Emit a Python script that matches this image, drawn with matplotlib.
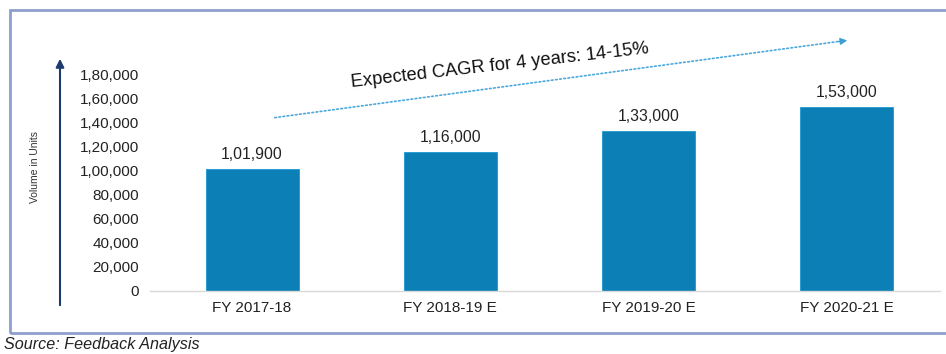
import matplotlib.pyplot as plt
from matplotlib.patches import Rectangle, FancyArrowPatch

plt.rcParams["font.family"] = ["Liberation Sans", "DejaVu Sans"]

categories = ["FY 2017-18", "FY 2018-19 E", "FY 2019-20 E", "FY 2020-21 E"]
volumes = [101900, 116000, 133000, 153000]
value_labels = ["1,01,900", "1,16,000", "1,33,000", "1,53,000"]
y_ticks = [0, 20000, 40000, 60000, 80000, 100000, 120000, 140000, 160000, 180000]
y_tick_labels = ["0", "20,000", "40,000", "60,000", "80,000", "1,00,000",
                 "1,20,000", "1,40,000", "1,60,000", "1,80,000"]

W, H = 946, 354
fig = plt.figure(figsize=(W / 100, H / 100), dpi=100)

def fx(px):
    return px / W

def fy(py):
    return 1 - py / H

# plot area: y=0 at 291px, y=180000 at 75px
ax = fig.add_axes([fx(150), fy(291), fx(940) - fx(150), fy(75) - fy(291)])
x = range(len(categories))
ax.bar(x, volumes, width=0.47, color="#0b7fb6", edgecolor="#1a9ad0", linewidth=0.6, zorder=2)
for xi, v, lab in zip(x, volumes, value_labels):
    ax.text(xi, v + 6000, lab, ha="center", va="bottom", fontsize=11.3, color="#222222")

ax.set_xlim(-0.515, 3.47)
ax.set_ylim(0, 180000)
ax.set_yticks(y_ticks)
ax.set_yticklabels(y_tick_labels, fontsize=11, color="#222222")
ax.set_xticks(list(x))
ax.set_xticklabels(categories, fontsize=11, color="#222222")
ax.tick_params(axis="y", length=0, pad=8)
ax.tick_params(axis="x", length=0, pad=7)
for side in ["top", "right", "left"]:
    ax.spines[side].set_visible(False)
ax.spines["bottom"].set_color("#d9d9d9")
ax.spines["bottom"].set_linewidth(1)

# y axis arrow on the left
fig.add_artist(FancyArrowPatch((fx(60), fy(308)), (fx(60), fy(56)),
                               transform=fig.transFigure, arrowstyle="-|>",
                               mutation_scale=12, color="#1f3b6e", lw=1.5))
fig.text(fx(35), fy(167), "Volume in Units", rotation=90, ha="center", va="center",
         fontsize=7.5, color="#333333")

# CAGR trend arrow (dotted shaft, solid head)
fig.add_artist(FancyArrowPatch((fx(272), fy(118)), (fx(842), fy(41)),
                               transform=fig.transFigure, arrowstyle="-",
                               color="#4aa8dc", lw=1.2, linestyle=(0, (1, 1.5))))
fig.add_artist(FancyArrowPatch((fx(836), fy(42)), (fx(850), fy(40)),
                               transform=fig.transFigure, arrowstyle="-|>",
                               mutation_scale=10, color="#3a9fd6", lw=1.0))
fig.text(fx(500), fy(66), "Expected CAGR for 4 years: 14-15%", rotation=6.5,
         ha="center", va="center", fontsize=13.2, color="#111111",
         rotation_mode="anchor")

# outer frame
fig.add_artist(Rectangle((fx(10), fy(333)), fx(950) - fx(10), fy(10) - fy(333),
                         transform=fig.transFigure, fill=False,
                         edgecolor="#8e9fcd", lw=2))

fig.text(fx(4), fy(345), "Source: Feedback Analysis", ha="left", va="center",
         fontsize=11.6, style="italic", color="#222222")

fig.savefig("out.png", dpi=100)
